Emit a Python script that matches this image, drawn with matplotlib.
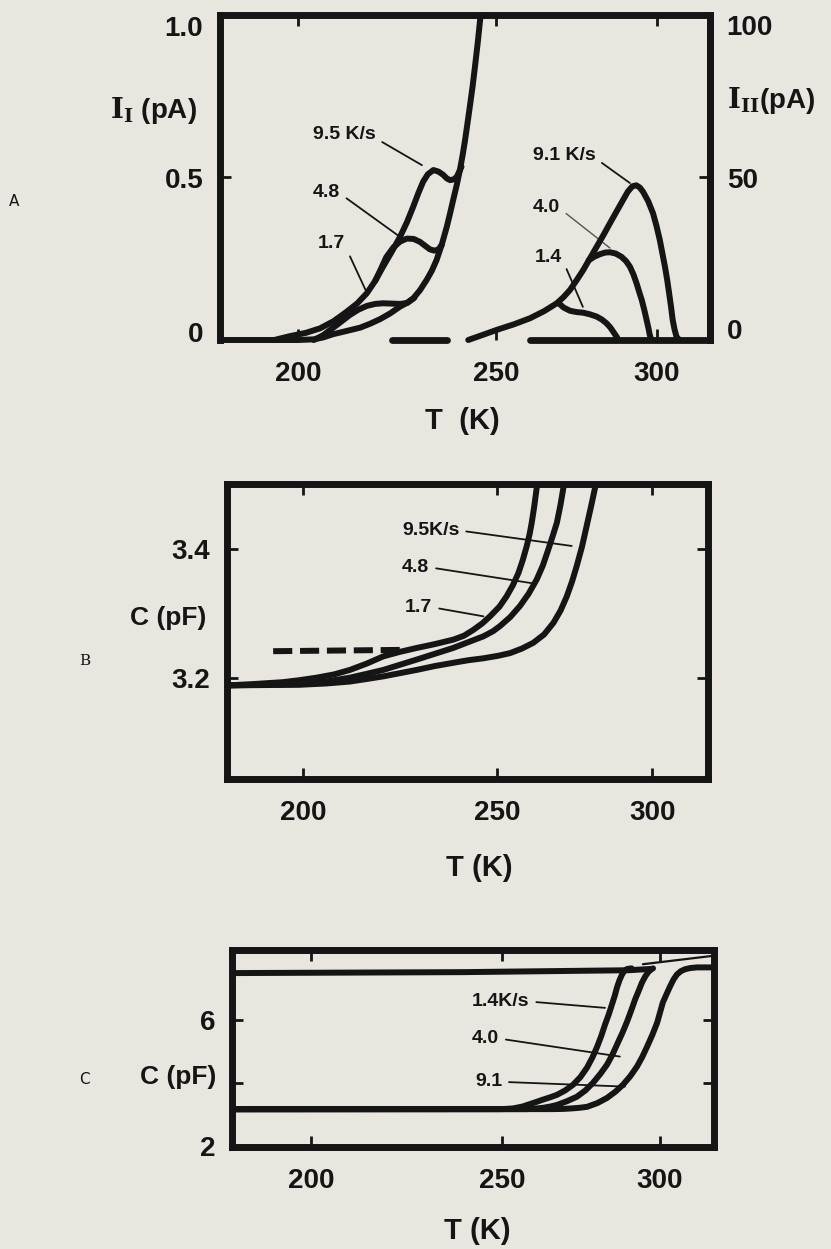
import numpy as np
import matplotlib
matplotlib.use("Agg")
import matplotlib.pyplot as plt
from matplotlib.transforms import ScaledTranslation

# ------------------------------------------------------------------
# Data (temperature T in K)
# ------------------------------------------------------------------
T_TICKS = [200, 250, 300]

# Panel A, low-temperature current I_I (left axis, pA)
A_T_rise = [180.3, 200.0, 204.0, 206.4, 208.9, 212.0, 215.7, 218.2, 220.7, 223.3,
            225.8, 227.5, 229.1, 230.8, 232.5, 233.8, 235.0, 236.3, 237.6, 238.4,
            239.2, 240.1, 240.9, 241.6, 242.2, 242.8, 243.4, 244.1, 244.7, 245.4,
            246.0, 246.2]
A_I_rise = [0.0, 0.0, 0.002, 0.008, 0.018, 0.027, 0.038, 0.050, 0.064, 0.082,
            0.103, 0.114, 0.128, 0.153, 0.185, 0.213, 0.246, 0.293, 0.349, 0.389,
            0.431, 0.477, 0.523, 0.570, 0.615, 0.666, 0.718, 0.780, 0.841, 0.915,
            0.985, 1.0]
A_T_95 = [194.0, 198.0, 202.0, 205.6, 209.0, 212.3, 215.0, 217.4, 219.5, 221.5,
          223.7, 225.8, 227.5, 229.1, 230.4, 231.6, 232.8, 234.2, 235.5, 236.7,
          237.6, 238.4, 239.3, 240.1, 241.3]
A_I_95 = [0.0, 0.012, 0.022, 0.036, 0.058, 0.087, 0.113, 0.144, 0.182, 0.226,
          0.272, 0.318, 0.362, 0.410, 0.452, 0.487, 0.510, 0.523, 0.518, 0.508,
          0.497, 0.492, 0.494, 0.502, 0.533]
A_T_48 = [219.5, 220.8, 222.3, 224.1, 225.8, 227.5, 229.2, 230.8, 232.1, 233.3,
          234.4, 235.4, 236.3]
A_I_48 = [0.182, 0.215, 0.255, 0.285, 0.303, 0.312, 0.311, 0.302, 0.290, 0.279,
          0.275, 0.278, 0.292]
A_T_17 = [204.0, 206.4, 208.0, 209.8, 211.5, 213.1, 215.2, 217.4, 219.5, 221.5,
          223.7, 225.8, 227.6, 229.4]
A_I_17 = [0.0, 0.015, 0.030, 0.046, 0.062, 0.077, 0.093, 0.105, 0.111, 0.113,
          0.112, 0.111, 0.114, 0.130]
A_T_gap = [223.7, 237.6]
A_I_gap = [0.0, 0.0]

# Panel A, high-temperature current I_II (right axis, pA)
A_T2_91 = [243.0, 246.5, 250.2, 255.5, 260.6, 265.0, 268.9, 271.0, 273.0, 275.0,
           277.1, 279.2, 281.3, 283.4, 285.4, 287.5, 289.5, 291.0, 292.4, 293.6,
           294.7, 295.7, 297.3, 298.8, 299.9, 300.9, 301.7, 302.5, 303.2, 303.8,
           304.4, 304.9, 305.5, 306.1, 307.0]
A_I2_91 = [0.0, 1.5, 3.1, 4.8, 6.7, 8.9, 11.3, 13.2, 15.4, 18.3,
           21.5, 25.1, 28.7, 32.3, 35.9, 39.6, 43.1, 45.7, 47.3, 47.6,
           46.9, 45.6, 42.7, 39.0, 35.0, 30.8, 26.7, 22.6, 18.5, 14.4,
           10.2, 6.2, 3.2, 1.0, 0.0]
A_T2_40 = [278.8, 280.5, 282.3, 283.9, 285.4, 287.2, 289.0, 290.4, 291.6, 292.7,
           293.7, 294.5, 295.3, 296.1, 296.8, 297.4, 297.8, 298.3]
A_I2_40 = [24.5, 25.6, 26.4, 26.9, 27.0, 26.6, 25.6, 24.3, 22.6, 20.2,
           17.4, 14.8, 12.3, 9.2, 6.2, 3.5, 1.5, 0.0]
A_T2_14 = [269.3, 271.0, 273.0, 275.0, 277.1, 279.2, 281.3, 282.9, 284.4, 285.5,
           286.4, 287.5, 288.0]
A_I2_14 = [11.5, 10.0, 9.0, 8.6, 8.4, 7.9, 7.2, 6.3, 5.1, 3.9,
           2.6, 1.0, 0.0]
A_T2_base = [260.6, 316.5]
A_I2_base = [0.0, 0.0]

# Panel B, capacitance on heating (pF)
B_T_17 = [180.4, 187.0, 194.8, 199.0, 203.5, 208.0, 212.1, 216.5, 220.7, 225.0,
          229.3, 234.0, 238.8, 241.5, 243.9, 246.2, 248.2, 250.8, 253.1, 255.1,
          256.9, 258.3, 259.6, 260.5, 261.2, 262.0, 262.8, 263.3]
B_C_17 = [3.188, 3.190, 3.193, 3.196, 3.200, 3.205, 3.212, 3.222, 3.233, 3.240,
          3.246, 3.252, 3.259, 3.265, 3.274, 3.284, 3.295, 3.310, 3.326, 3.343,
          3.362, 3.382, 3.404, 3.422, 3.440, 3.465, 3.494, 3.510]
B_T_48 = [180.4, 199.2, 206.0, 212.1, 216.5, 220.7, 225.0, 229.3, 234.0, 238.7,
          242.6, 246.5, 249.0, 251.0, 254.3, 257.4, 260.2, 262.8, 264.8, 266.5,
          268.0, 269.3, 270.4, 271.4, 272.0]
B_C_48 = [3.188, 3.190, 3.194, 3.200, 3.206, 3.212, 3.220, 3.228, 3.237, 3.246,
          3.255, 3.264, 3.272, 3.280, 3.294, 3.311, 3.330, 3.352, 3.374, 3.398,
          3.420, 3.440, 3.466, 3.494, 3.510]
B_T_95 = [180.4, 199.2, 206.0, 212.1, 216.5, 220.7, 225.0, 229.3, 234.0, 238.7,
          242.6, 246.5, 250.5, 254.2, 258.0, 261.7, 265.2, 268.2, 270.5, 272.5,
          274.2, 275.7, 277.4, 278.9, 280.3, 281.6, 282.2]
B_C_95 = [3.188, 3.189, 3.191, 3.194, 3.198, 3.202, 3.207, 3.212, 3.218, 3.223,
          3.227, 3.230, 3.234, 3.238, 3.245, 3.254, 3.267, 3.285, 3.304, 3.326,
          3.349, 3.373, 3.403, 3.435, 3.465, 3.494, 3.510]
B_T_dash = [192.3, 225.0]
B_C_dash = [3.241, 3.243]

# Panel C, capacitance on cooling and heating (pF)
C_T_top = [179.3, 240.0, 290.0, 297.0]
C_C_top = [7.47, 7.50, 7.56, 7.60]
C_T_tail = [294.6, 317.1]
C_C_tail = [7.75, 8.02]
C_T_14 = [179.3, 250.0, 253.5, 256.5, 258.9, 261.0, 263.0, 265.2, 267.4, 270.0,
          272.5, 274.8, 276.9, 278.6, 280.1, 281.4, 282.6, 283.8, 284.8, 285.7,
          286.4, 287.2, 288.0, 288.8, 289.6, 291.0]
C_C_14 = [3.165, 3.168, 3.19, 3.25, 3.33, 3.40, 3.47, 3.54, 3.62, 3.76,
          3.94, 4.18, 4.48, 4.80, 5.14, 5.48, 5.84, 6.17, 6.48, 6.76,
          7.02, 7.25, 7.43, 7.55, 7.60, 7.62]
C_T_40 = [179.3, 258.0, 261.0, 263.0, 265.3, 267.4, 270.6, 273.7, 276.4, 278.8,
          281.1, 283.2, 284.9, 286.4, 288.1, 289.6, 290.9, 292.1, 293.3, 294.3,
          295.3, 296.2, 297.0, 297.8]
C_C_40 = [3.165, 3.168, 3.19, 3.21, 3.25, 3.30, 3.42, 3.56, 3.76, 4.00,
          4.28, 4.57, 4.88, 5.21, 5.58, 5.94, 6.29, 6.63, 6.92, 7.17,
          7.36, 7.49, 7.57, 7.62]
C_T_91 = [179.3, 266.0, 269.5, 272.0, 274.5, 276.9, 280.2, 283.2, 285.9, 288.3,
          290.6, 292.7, 294.4, 295.9, 297.6, 299.1, 300.0, 300.9, 302.1, 303.2,
          304.3, 305.4, 306.6, 307.9, 309.6, 311.7, 317.1]
C_C_91 = [3.165, 3.168, 3.175, 3.19, 3.21, 3.24, 3.36, 3.52, 3.72, 3.94,
          4.21, 4.51, 4.82, 5.14, 5.52, 5.90, 6.22, 6.54, 6.81, 7.05,
          7.27, 7.43, 7.53, 7.59, 7.63, 7.65, 7.65]

# ------------------------------------------------------------------
# Style
# ------------------------------------------------------------------
PAPER = "#e8e6df"
INK = "#151515"
CURVE_LW = 4.3
SPINE_LW = 5.0

plt.rcParams.update({
    "font.family": ["Liberation Sans", "DejaVu Sans"],
    "font.weight": "bold",
    "mathtext.fontset": "dejavuserif",
    "text.color": INK,
    "xtick.color": INK,
    "ytick.color": INK,
})

W, H = 831, 1249
fig = plt.figure(figsize=(W / 100, H / 100), dpi=100, facecolor=PAPER)


def px_axes(left, top, right, bottom):
    return fig.add_axes([left / W, 1 - bottom / H, (right - left) / W, (bottom - top) / H])


def warp(ratio):
    """Temperature axis drawn with a coarser scale above 250 K."""
    def fwd(t):
        t = np.asarray(t, dtype=float)
        return np.where(t < 250.0, t - 250.0, (t - 250.0) * ratio)

    def inv(u):
        u = np.asarray(u, dtype=float)
        return np.where(u < 0.0, u + 250.0, u / ratio + 250.0)
    return fwd, inv


def frame(ax, ratio, xlim):
    ax.set_facecolor("none")
    ax.set_xscale("function", functions=warp(ratio))
    ax.set_xlim(*xlim)
    ax.set_xticks(T_TICKS)
    ax.set_xticklabels([str(t) for t in T_TICKS])
    ax.minorticks_off()
    for s in ax.spines.values():
        s.set_linewidth(SPINE_LW)
        s.set_color(INK)
        s.set_capstyle("projecting")
    ax.tick_params(axis="x", direction="in", length=8, width=2, top=True, bottom=True,
                   labelsize=20, pad=15)
    ax.tick_params(axis="y", direction="in", length=8, width=2, labelsize=20, pad=12)


def nudge_end_labels(ax, dy_top, dy_bottom, right=False):
    """Pull the outermost y tick labels slightly inside the frame."""
    labels = [t.label2 if right else t.label1 for t in ax.yaxis.get_major_ticks()]
    labels[-1].set_transform(labels[-1].get_transform()
                             + ScaledTranslation(0, -dy_top / 72, fig.dpi_scale_trans))
    labels[0].set_transform(labels[0].get_transform()
                            + ScaledTranslation(0, dy_bottom / 72, fig.dpi_scale_trans))


def curve(ax, t, v, lw=CURVE_LW, **kw):
    ax.plot(t, v, color=INK, lw=lw, solid_capstyle="round", solid_joinstyle="round", **kw)


def rate_label(ax, text, xytext, xy, rel=(1.0, 0.5), lw=1.3, alpha=1.0, size=14):
    ax.annotate(text, xy=xy, xytext=xytext, textcoords="data", ha="left", va="center",
                fontsize=size, fontweight="bold",
                arrowprops=dict(arrowstyle="-", lw=lw, color=INK, alpha=alpha,
                                shrinkA=3, shrinkB=0, relpos=rel))


# ------------------------------------------------------------------
# Panel A: thermally stimulated currents
# ------------------------------------------------------------------
axA = px_axes(220, 15, 710, 340)
frame(axA, 0.813, (180.3, 316.5))
axA.set_ylim(0, 1.0)
axA.set_yticks([0, 0.5, 1.0])
axA.set_yticklabels(["0", "0.5", "1.0"])
axA.spines["bottom"].set_visible(False)

axA2 = axA.twinx()
axA2.set_ylim(0, 100)
axA2.set_yticks([0, 50, 100])
axA2.set_yticklabels(["0", "50", "100"])
for side in ("left", "top", "bottom"):
    axA2.spines[side].set_visible(False)
axA2.spines["right"].set_linewidth(SPINE_LW)
axA2.spines["right"].set_color(INK)
axA2.tick_params(axis="y", direction="in", length=8, width=2, labelsize=20, pad=12)

nudge_end_labels(axA, 8, 6)
nudge_end_labels(axA2, 7, 8, right=True)

curve(axA, A_T_rise, A_I_rise, clip_on=False)
curve(axA, A_T_95, A_I_95, clip_on=False)
curve(axA, A_T_48, A_I_48)
curve(axA, A_T_17, A_I_17, clip_on=False)
axA.plot(A_T_gap, A_I_gap, color=INK, lw=CURVE_LW + 0.6, solid_capstyle="round", clip_on=False)

curve(axA2, A_T2_91, A_I2_91, clip_on=False)
curve(axA2, A_T2_40, A_I2_40, clip_on=False)
curve(axA2, A_T2_14, A_I2_14, clip_on=False)
axA2.plot(A_T2_base, A_I2_base, color=INK, lw=CURVE_LW + 0.6, solid_capstyle="round", clip_on=False)

rate_label(axA, "9.5 K/s", (203.8, 0.631), (231.3, 0.538), rel=(1.0, 0.3))
rate_label(axA, "4.8", (203.8, 0.455), (225.8, 0.317), rel=(1.0, 0.4))
rate_label(axA, "1.7", (205.1, 0.298), (217.4, 0.145), rel=(1.0, 0.3))
rate_label(axA2, "9.1 K/s", (261.5, 56.9), (291.6, 48.3), rel=(1.0, 0.3))
rate_label(axA2, "4.0", (261.5, 40.9), (285.4, 28.3), rel=(1.0, 0.4), lw=1.0, alpha=0.7)
rate_label(axA2, "1.4", (262.1, 25.5), (277.0, 10.2), rel=(1.0, 0.4))

fig.text(153 / W, 1 - 110 / H, r"$\mathbf{I}_{\mathbf{I}}$ (pA)", ha="center", va="center",
         fontsize=20, fontweight="bold")
fig.text(727 / W, 1 - 100 / H, r"$\mathbf{I}_{\mathbf{II}}$(pA)", ha="left", va="center",
         fontsize=20, fontweight="bold")
fig.text(462 / W, 1 - 421 / H, "T  (K)", ha="center", va="center", fontsize=21, fontweight="bold")
fig.text(14 / W, 1 - 201 / H, "A", ha="center", va="center", fontsize=11,
         fontweight="normal", family="DejaVu Sans")

# ------------------------------------------------------------------
# Panel B: capacitance on heating at three rates
# ------------------------------------------------------------------
axB = px_axes(227, 484, 708, 779)
frame(axB, 0.80, (180.4, 318.0))
axB.set_ylim(3.043, 3.5)
axB.set_yticks([3.2, 3.4])
axB.set_yticklabels(["3.2", "3.4"])
axB.tick_params(axis="y", right=True, left=True)

curve(axB, B_T_95, B_C_95)
curve(axB, B_T_48, B_C_48)
curve(axB, B_T_17, B_C_17)
axB.plot(B_T_dash, B_C_dash, color=INK, lw=CURVE_LW, dashes=(3.2, 1.3), dash_capstyle="butt")

rate_label(axB, "9.5K/s", (225.5, 3.428), (274.1, 3.404))
rate_label(axB, "4.8", (225.5, 3.371), (261.7, 3.346))
rate_label(axB, "1.7", (226.3, 3.309), (246.5, 3.295))

fig.text(168 / W, 1 - 618 / H, "C (pF)", ha="center", va="center", fontsize=19, fontweight="bold")
fig.text(479 / W, 1 - 868 / H, "T (K)", ha="center", va="center", fontsize=21, fontweight="bold")
fig.text(85 / W, 1 - 661 / H, "B", ha="center", va="center", fontsize=11,
         fontweight="normal", family="DejaVu Serif")

# ------------------------------------------------------------------
# Panel C: capacitance, full cooling/heating loop
# ------------------------------------------------------------------
axC = px_axes(232, 950, 714, 1147)
frame(axC, 0.827, (179.3, 317.1))
axC.set_ylim(1.97, 8.2)
axC.set_yticks([2, 4, 6])
axC.set_yticklabels(["2", "", "6"])
axC.tick_params(axis="y", right=True, left=True)

curve(axC, C_T_top, C_C_top)
curve(axC, C_T_tail, C_C_tail, lw=1.6)
curve(axC, C_T_91, C_C_91)
curve(axC, C_T_40, C_C_40)
curve(axC, C_T_14, C_C_14)

rate_label(axC, "1.4K/s", (242.1, 6.57), (282.6, 6.37))
rate_label(axC, "4.0", (242.1, 5.40), (287.3, 4.83))
rate_label(axC, "9.1", (242.9, 4.03), (288.9, 3.88))

fig.text(178 / W, 1 - 1077 / H, "C (pF)", ha="center", va="center", fontsize=19, fontweight="bold")
fig.text(477 / W, 1 - 1231 / H, "T (K)", ha="center", va="center", fontsize=21, fontweight="bold")
fig.text(84 / W, 1 - 1080 / H, "C", ha="center", va="center", fontsize=11,
         fontweight="normal", family="DejaVu Sans")

fig.savefig("out.png", dpi=100, facecolor=PAPER)
